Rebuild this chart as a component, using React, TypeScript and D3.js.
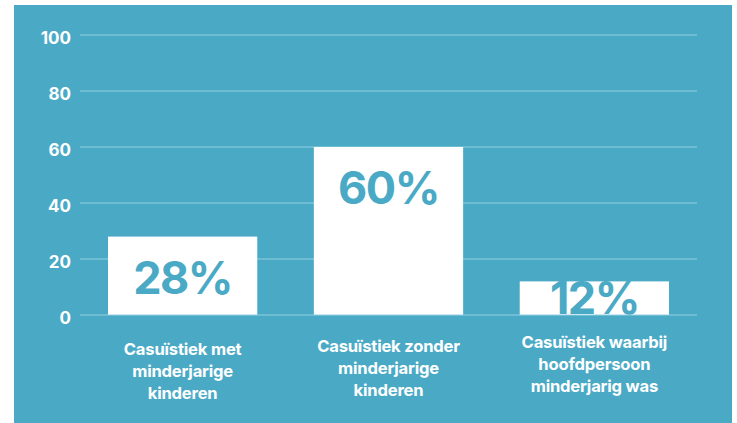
import React from "react";
import * as d3 from "d3";

const categories: string[][] = [
  ["Casuïstiek met", "minderjarige", "kinderen"],
  ["Casuïstiek zonder", "minderjarige", "kinderen"],
  ["Casuïstiek waarbij", "hoofdpersoon", "minderjarig was"],
];
const values: number[] = [28, 60, 12];
const ticks: number[] = [0, 20, 40, 60, 80, 100];

const W = 737;
const H = 423;
const TEAL = "#4aaac6";
const GRID = "#93d0e2";
const FONT = "Inter, 'Noto Sans', sans-serif";

export default function App() {
  const x = d3
    .scaleBand<number>()
    .domain(values.map((_, i) => i))
    .range([80, 697])
    .paddingInner(0.275)
    .paddingOuter(0.136);
  const y = d3.scaleLinear().domain([0, 100]).range([315, 35]);

  return (
    <svg
      width={W}
      height={H}
      style={{ position: "absolute", left: 0, top: 0, display: "block" }}
      fontFamily={FONT}
    >
      <rect x={0} y={0} width={W} height={H} fill="#ffffff" />
      <rect x={14} y={5} width={718} height={H - 5} fill={TEAL} />
      {ticks.map((t) => (
        <g key={t}>
          {t !== 0 && (
            <line x1={80} x2={697} y1={y(t)} y2={y(t)} stroke={GRID} strokeWidth={1.2} />
          )}
          <text
            x={71}
            y={y(t) + 9}
            textAnchor="end"
            fill="#ffffff"
            fontSize={17}
            fontWeight={700}
          >
            {t}
          </text>
        </g>
      ))}
      {values.map((v, i) => {
        const bx = x(i)!;
        const bw = x.bandwidth();
        const cx = bx + bw / 2;
        const top = y(v);
        const labelY = Math.min(top + 57, y(0) - 1);
        return (
          <g key={i}>
            <rect x={bx} y={top} width={bw} height={y(0) - top} fill="#ffffff" />
            <text
              x={cx}
              y={labelY}
              textAnchor="middle"
              fill={TEAL}
              fontSize={45}
              fontWeight={700}
              letterSpacing={-1.5}
            >
              {v}%
            </text>
          </g>
        );
      })}
      <line x1={80} x2={697} y1={y(0)} y2={y(0)} stroke={GRID} strokeWidth={1.2} />
      {categories.map((lines, i) => {
        const cx = x(i)! + x.bandwidth() / 2;
        const base = y(0) + 40 - i * 3.5;
        return (
          <text
            key={i}
            textAnchor="middle"
            fill="#ffffff"
            fontSize={16.6}
            fontWeight={700}
            letterSpacing={-0.2}
          >
            {lines.map((l, j) => (
              <tspan key={j} x={cx} y={base + j * 22}>
                {l}
              </tspan>
            ))}
          </text>
        );
      })}
    </svg>
  );
}
